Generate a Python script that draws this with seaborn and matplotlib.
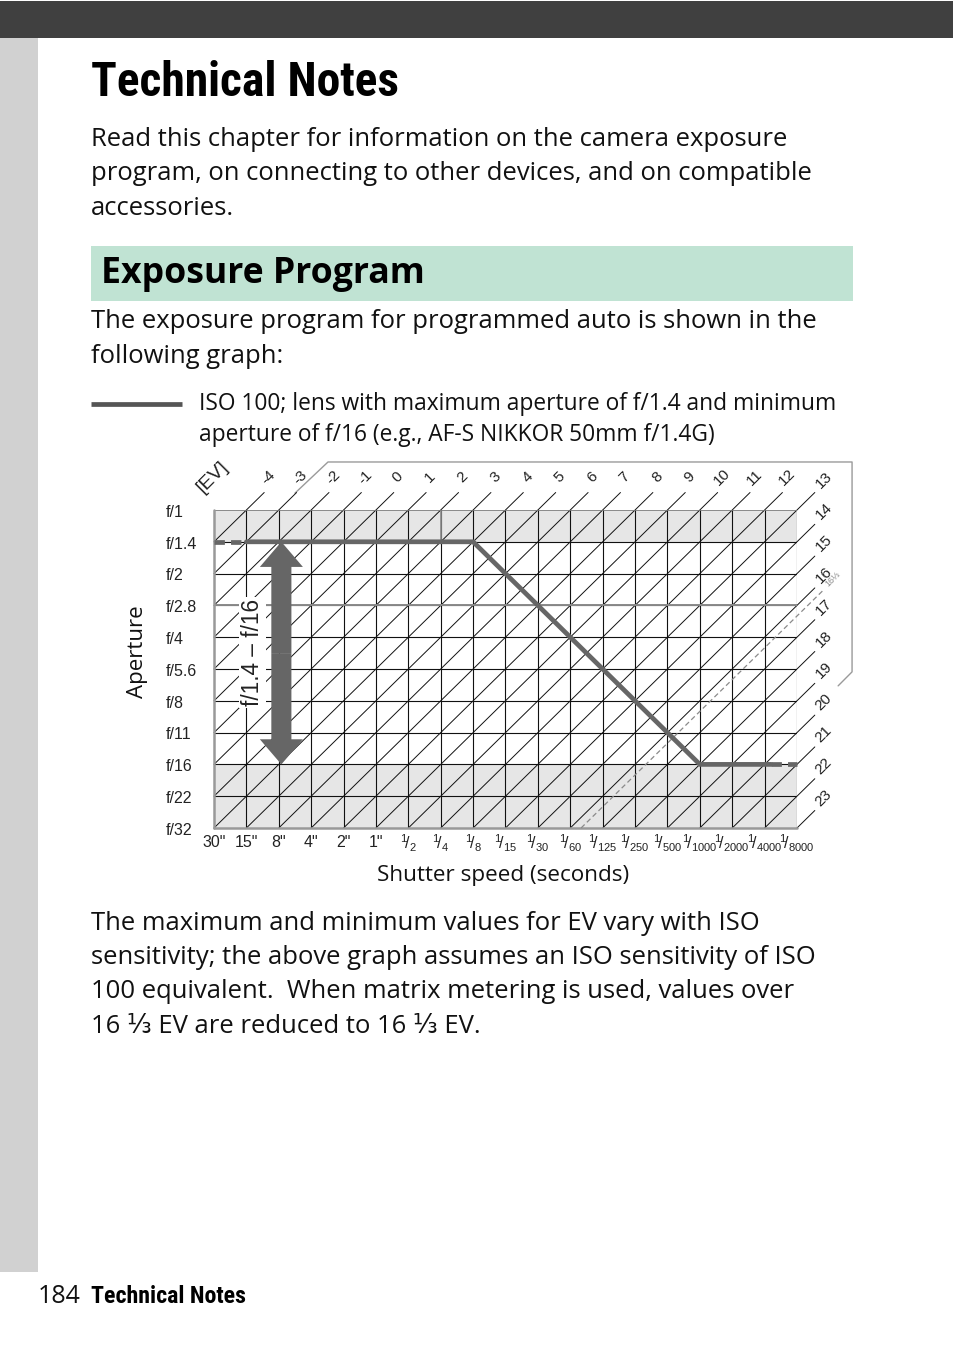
import numpy as np
import pandas as pd
import matplotlib
matplotlib.use("Agg")
import matplotlib.pyplot as plt
import matplotlib.patches as mpatches
from matplotlib import font_manager as fm
import seaborn as sns

# ---------------- data ----------------
shutter_labels = ['30"', '15"', '8"', '4"', '2"', '1"', '1/2', '1/4', '1/8', '1/15', '1/30',
                  '1/60', '1/125', '1/250', '1/500', '1/1000', '1/2000', '1/4000', '1/8000']
aperture_labels = ['f/1', 'f/1.4', 'f/2', 'f/2.8', 'f/4', 'f/5.6', 'f/8', 'f/11', 'f/16', 'f/22', 'f/32']
ev_origin = -5                      # EV at 30" / f/1
ev_labels = list(range(-4, 24))     # labelled EV lines
# programmed-auto line, in (shutter step, aperture step)
prog_shutter = [1, 8, 15, 17.2]
prog_aperture = [1, 1, 8, 8]
prog_dash_left_shutter = [0, 1]
prog_dash_left_aperture = [1, 1]
prog_dash_right_shutter = [17.2, 18]
prog_dash_right_aperture = [8, 8]
lens_range = ['f/1.4', 'f/16']
matrix_limit_ev = 16 + 1 / 3
shaded_rows = [(0, 1), (8, 10)]

# ---------------- fonts ----------------
sns.set_theme(style="white")
names = {f.name for f in fm.fontManager.ttflist}
BODY = "Open Sans" if "Open Sans" in names else "DejaVu Sans"
HELV = "Liberation Sans" if "Liberation Sans" in names else "DejaVu Sans"
plt.rcParams["font.family"] = [HELV, "DejaVu Sans"]
plt.rcParams["mathtext.fontset"] = "custom"
plt.rcParams["mathtext.rm"] = HELV
plt.rcParams["mathtext.it"] = HELV
plt.rcParams["mathtext.bf"] = HELV + ":bold"

_WMAP = {"normal": 400, "regular": 400, "book": 400, "medium": 500, "semibold": 600,
         "demibold": 600, "demi": 600, "bold": 700, "heavy": 800, "extra bold": 800,
         "black": 900, "light": 300, "ultralight": 200}


def find_condensed_bold():
    pref = ["roboto", "noto sans", "liberation", "open sans", "dejavu", "lato", "inter"]
    best, best_score = None, None
    for f in fm.fontManager.ttflist:
        st = str(f.stretch).lower()
        fn = f.fname.lower()
        if "italic" in fn or "oblique" in fn or str(f.style) != "normal":
            continue
        if "semi" in st or "extra" in st or "ultra" in st or "semicond" in fn or "extracond" in fn:
            continue
        cond = st == "condensed" or "condensed" in fn or "narrow" in fn or "narrow" in f.name.lower()
        if not cond:
            continue
        w = f.weight if isinstance(f.weight, int) else _WMAP.get(str(f.weight).lower(), 400)
        if w < 600:
            continue
        nm = f.name.lower()
        p = next((n for n, key in enumerate(pref) if key in nm), len(pref))
        score = (abs(w - 700), p)
        if best_score is None or score < best_score:
            best, best_score = f, score
    if best is not None:
        return fm.FontProperties(fname=best.fname)
    return fm.FontProperties(family=HELV, weight="bold")


COND = find_condensed_bold()

W, H = 954, 1345
fig = plt.figure(figsize=(W / 100, H / 100), dpi=100)
fig.patch.set_facecolor("white")
renderer = fig.canvas.get_renderer()


def fx(x):
    return x / W


def fy(y):
    return 1 - y / H


def ftext(x, y, s, **kw):
    kw.setdefault("va", "baseline")
    kw.setdefault("ha", "left")
    return fig.text(fx(x), fy(y), s, **kw)


def fit_width(t, target_px):
    w = t.get_window_extent(renderer).width
    t.set_fontsize(t.get_fontsize() * target_px / w)


def frect(x0, y0, x1, y1, color):
    fig.add_artist(mpatches.Rectangle((fx(x0), fy(y1)), fx(x1) - fx(x0), fy(y0) - fy(y1),
                                      transform=fig.transFigure, facecolor=color,
                                      edgecolor="none", zorder=0))


# ---------------- page decoration ----------------
frect(0, 1, W, 37.5, "#404040")
frect(0, 37.5, 38, 1272, "#d1d1d1")
frect(91, 246, 853, 301, "#c0e3d3")

t = ftext(91, 96, "Technical Notes", fontproperties=COND.copy(), color="#000000")
t.set_fontsize(40)
fit_width(t, 308)

BODY_SIZE = 18.45
body_kw = dict(family=[BODY, "DejaVu Sans"], fontsize=BODY_SIZE, color="#111111")
para1 = ["Read this chapter for information on the camera exposure",
         "program, on connecting to other devices, and on compatible",
         "accessories."]
for n, line in enumerate(para1):
    ftext(91, 146 + 34.5 * n, line, **body_kw)

ftext(101, 283, "Exposure Program", family=[BODY, "DejaVu Sans"], fontweight="bold",
      fontsize=25.7, color="#000000")
para2 = ["The exposure program for programmed auto is shown in the", "following graph:"]
for n, line in enumerate(para2):
    ftext(91, 328 + 35 * n, line, **body_kw)

fig.add_artist(plt.Line2D([fx(91), fx(182)], [fy(404), fy(404)], transform=fig.transFigure,
                          color="#555555", lw=3.4, solid_capstyle="butt"))
leg_kw = dict(family=[BODY, "DejaVu Sans"], fontsize=16.35, color="#111111")
ftext(199, 410, "ISO 100; lens with maximum aperture of f/1.4 and minimum", **leg_kw)
ftext(199, 441, "aperture of f/16 (e.g., AF-S NIKKOR 50mm f/1.4G)", **leg_kw)

para3 = ["The maximum and minimum values for EV vary with ISO",
         "sensitivity; the above graph assumes an ISO sensitivity of ISO",
         "100 equivalent.  When matrix metering is used, values over",
         "16 \u2153 EV are reduced to 16 \u2153 EV."]
for n, line in enumerate(para3):
    ftext(91, 929.5 + 34.4 * n, line, **body_kw)

ftext(38, 1303, "184", family=[BODY, "DejaVu Sans"], fontsize=18, color="#111111")
t = ftext(91, 1303, "Technical Notes", fontproperties=COND.copy(), color="#000000")
t.set_fontsize(20)
fit_width(t, 155)

# ---------------- chart ----------------
gx0, gx1, gy0, gy1 = 214, 797, 510, 828
ax = fig.add_axes([fx(gx0), fy(gy1), fx(gx1) - fx(gx0), fy(gy0) - fy(gy1)])
ncol = len(shutter_labels) - 1
nrow = len(aperture_labels) - 1
ax.set_xlim(0, ncol)
ax.set_ylim(nrow, 0)
ax.axis("off")

for a, b in shaded_rows:
    ax.axhspan(a, b, color="#e6e6e6", zorder=0, lw=0)

GRID = dict(color="#111111", lw=0.8, zorder=2)
for i in range(1, ncol + 1):
    ax.plot([i, i], [0, nrow], **GRID)
for j in range(1, nrow):
    ax.plot([0, ncol], [j, j], **GRID)
ax.plot([0, ncol], [3, 3], color="#8a8a8a", lw=1.4, zorder=2.5)
ax.plot([7, 7], [0, 1], color="#8a8a8a", lw=1.2, zorder=2.5)
ax.plot([0, ncol], [0, 0], color="#7a7a7a", lw=1.2, zorder=2.5)
ax.plot([0, 0], [0, nrow], color="#999999", lw=1.8, zorder=2.5, clip_on=False)
ax.plot([0, ncol], [nrow, nrow], color="#999999", lw=1.8, zorder=2.5, clip_on=False)

# EV diagonals with labels
ext = 0.55
for ev in [ev_origin] + ev_labels:
    k = ev - ev_origin
    i0 = max(0, k - nrow)
    j0 = k - i0
    i1 = min(ncol, k)
    j1 = k - i1
    if k == 0:
        continue
    ax.plot([i0, i1 + ext], [j0, j1 - ext], color="#111111", lw=0.7, zorder=2, clip_on=False)
    if i1 < ncol:
        lx, ly = i1 + 0.68, j1 - 1.02
    else:
        lx, ly = i1 + 0.82, j1 - 0.95
    ax.text(lx, ly, str(ev), rotation=45, ha="center", va="center", fontsize=11,
            color="#222222", rotation_mode="anchor")

# outer frame around EV labels
frame_i = [2.5, 3.52, 19.7, 19.7, 19.27]
frame_j = [-0.53, -1.51, -1.51, 5.09, 5.53]
ax.plot(frame_i, frame_j, color="#9a9a9a", lw=1.0, clip_on=False, zorder=1)
ax.text(-0.05, -1.05, "[EV]", rotation=45, ha="center", va="center", fontsize=14,
        color="#222222", rotation_mode="anchor")

# matrix metering limit 16 1/3 EV
km = matrix_limit_ev - ev_origin
ax.plot([km - nrow, ncol + 0.8], [nrow, km - ncol - 0.8], color="#8a8a8a", lw=0.9,
        ls=(0, (4, 2.5)), zorder=3, clip_on=False)
ax.text(ncol + 1.12, km - ncol - 1.15, "16\u2153", rotation=45, ha="center", va="center",
        fontsize=6.5, color="#8a8a8a", rotation_mode="anchor", family=[HELV, "DejaVu Sans"])

# programme line
PROG = "#666666"
sns.lineplot(x=prog_shutter, y=prog_aperture, ax=ax, color=PROG, lw=3.4, sort=False,
             estimator=None, zorder=5)
ax.plot(prog_dash_left_shutter, prog_dash_left_aperture, color=PROG, lw=3.4,
        ls=(0, (2.2, 1.3)), zorder=5, solid_capstyle="butt")
ax.plot(prog_dash_right_shutter, prog_dash_right_aperture, color=PROG, lw=3.4,
        ls=(0, (2.2, 1.3)), zorder=5, clip_on=False)

# lens aperture range arrow
ja = aperture_labels.index(lens_range[0])
jb = aperture_labels.index(lens_range[1])
xa = 2.08
mid = (ja + jb) / 2
for tip in (ja, jb):
    ax.add_patch(mpatches.FancyArrow(xa, mid, 0, tip - mid, width=0.62, head_width=1.33,
                                     head_length=0.79, length_includes_head=True,
                                     color=PROG, lw=0, zorder=6))
ax.text(1.2, 4.47, f"{lens_range[0]} \u2013 {lens_range[1]}", rotation=90, ha="center",
        va="center", fontsize=16.3, color="#222222", zorder=4,
        bbox=dict(facecolor="white", edgecolor="none", pad=1.5))


# axis labels
def fmt_shutter(s):
    if s.startswith("1/"):
        return r"$^{1}\!/_{%s}$" % s[2:]
    return s


for i, s in enumerate(shutter_labels):
    ax.text(i, 10.47, fmt_shutter(s), ha="center", va="center", fontsize=11.5,
            color="#222222", clip_on=False)
for j, s in enumerate(aperture_labels):
    ax.text(-1.48, j + 0.07, s, ha="left", va="center", fontsize=11.5, color="#222222")

ax.text(-2.36, 4.47, "Aperture", rotation=90, ha="center", va="center", fontsize=16,
        family=[BODY, "DejaVu Sans"], color="#111111")
ax.text(8.92, 11.5, "Shutter speed (seconds)", ha="center", va="center", fontsize=16.2,
        family=[BODY, "DejaVu Sans"], color="#111111")

fig.savefig("out.png", dpi=100)
